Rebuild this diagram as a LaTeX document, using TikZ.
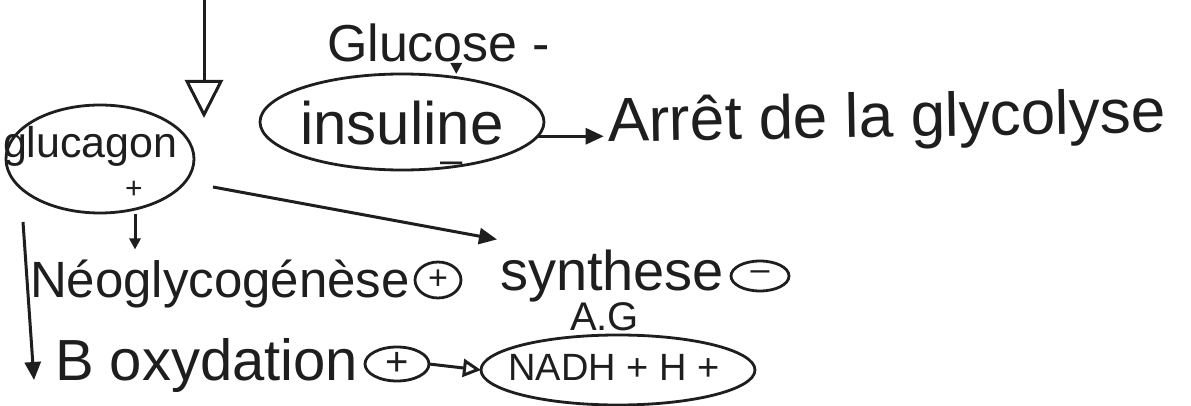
\documentclass[tikz,border=0pt]{standalone}
\usepackage{fontspec}
\setmainfont{Liberation Sans}
\usetikzlibrary{arrows.meta,shapes.geometric}
\definecolor{ink}{HTML}{1E1E1E}
\begin{document}
\begin{tikzpicture}[x=1pt,y=-1pt,
  inkline/.style={draw=ink,line width=3pt},
  txt/.style={inner sep=0pt,outer sep=0pt,text=ink,anchor=base west},
  fs/.style={font=\fontsize{#1}{#1}\selectfont},
  bubble/.style={ellipse,draw=ink,line width=2.8pt,inner sep=0pt,outer sep=0pt,text=ink},
  fillhead/.style={-{Triangle[length=18pt,width=16pt]}},
  smallhead/.style={-{Triangle[length=11pt,width=11pt]}},
  openhead/.style={-{Triangle[open,length=38pt,width=38pt]}},
  openhead small/.style={-{Triangle[open,length=18pt,width=18pt]}},
  ]
\useasboundingbox[fill=white] (0,0) rectangle (1191,406);

% texts and bubbles
\node[txt,fs=52] (glu) at (327,62) {Glucose -};
\node[bubble,minimum width=284pt,minimum height=96pt] (ins) at (402,122) {};
\node[txt,fs=60,anchor=center,align=center] (instxt) at (402,137)
  {insuline\\[-31pt]\hspace*{100pt}{\fontsize{40}{40}\selectfont –}};
\node[txt,fs=62,rotate=1] (arret) at (608,142) {Arrêt de la glycolyse};

\node[bubble,minimum width=188pt,minimum height=108pt] (glg) at (100,159) {};
\node[txt,fs=43] (glgtxt) at (3,158) {glucagon};
\node[txt,fs=30,anchor=center] (glgplus) at (134,190) {+};

\node[txt,fs=51] (neo) at (30,297) {Néoglycogénèse};
\node[bubble,minimum width=46pt,minimum height=36pt,fs=34] (neoplus) at (438,280) {+};
\node[txt,fs=56] (syn) at (500,290) {synthese};
\node[bubble,minimum width=58pt,minimum height=30pt,fs=34] (synminus) at (760,276) {–};
\node[txt,fs=40] (ag) at (570,330) {A.G};

\node[txt,fs=58] (box) at (55,380) {B oxydation};
\node[bubble,minimum width=64pt,minimum height=34pt,fs=40] (boxplus) at (397,364) {+};
\node[bubble,minimum width=274pt,minimum height=70pt] (nadh) at (618,370) {};
\node[txt,fs=38,anchor=center] (nadhtxt) at (614,367) {NADH + H +};

% connectors
\coordinate (topstart) at (204,-5);
\coordinate (topend) at (204,118);
\draw[inkline,openhead] (topstart) -- (topend);

\draw[inkline,smallhead] ([xshift=18pt]glu.south) -- ([xshift=18pt]glu.south |- ins.north);
\draw[inkline,fillhead,shorten >=4pt] (ins.-6) -- (ins.-6 -| arret.west);

\coordinate (diagstart) at (213,187);
\draw[inkline,fillhead] (diagstart) -- ([shift={(-3,-10)}]syn.north west);

\coordinate (neoarrow) at (135,214);
\draw[inkline,smallhead,shorten >=10pt] (neoarrow) -- (neoarrow |- neo.north);

\coordinate (leftstart) at (23,222);
\draw[inkline,fillhead] (leftstart) -- ([xshift=-21pt]box.base west);

\draw[inkline,openhead small] (boxplus.east) -- (nadh.west);
\end{tikzpicture}
\end{document}
